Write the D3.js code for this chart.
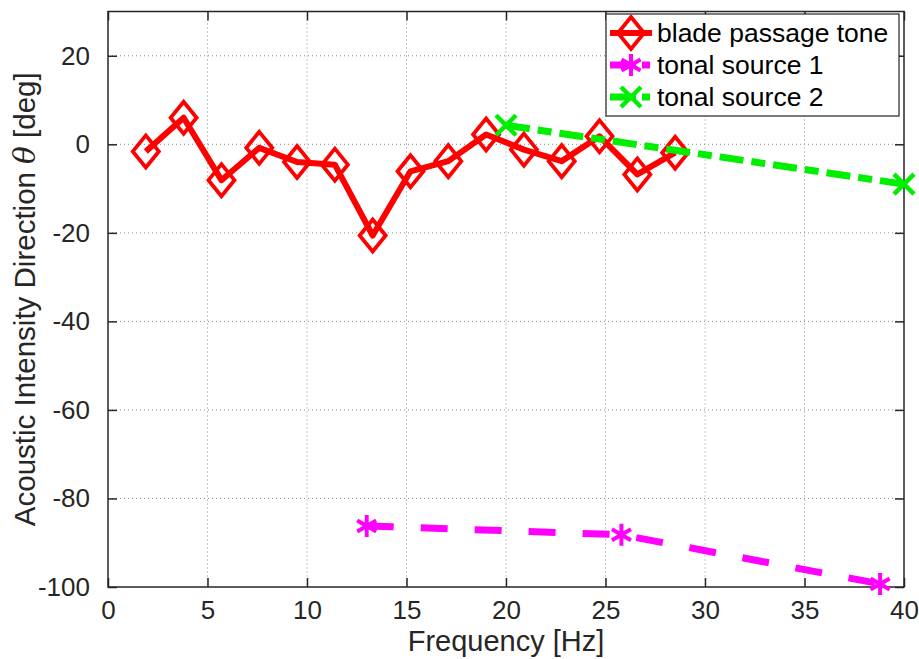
<!DOCTYPE html>
<html>
<head>
<meta charset="utf-8">
<script src="https://cdn.jsdelivr.net/npm/d3@7"></script>
<style>
  body { margin: 0; background: #fff; }
  svg { display: block; font-family: "Liberation Sans", Arial, Helvetica, sans-serif; }
</style>
</head>
<body>
<div id="graph"></div>
<script>
// blade passage tone
const bptFreq = [1.9, 3.8, 5.7, 7.6, 9.5, 11.4, 13.3, 15.2, 17.1, 19.0, 20.9, 22.8, 24.7, 26.6, 28.5];
const bptDir = [-1.6, 6.0, -8.1, -0.8, -4.0, -4.6, -20.6, -6.1, -3.8, 2.2, -1.2, -3.8, 1.8, -6.8, -1.9];
// tonal source 1
const ts1Freq = [13.0, 25.8, 38.8];
const ts1Dir = [-86.2, -88.2, -99.3];
// tonal source 2
const ts2Freq = [20.0, 40.0];
const ts2Dir = [4.3, -9.0];

const xTicks = [0, 5, 10, 15, 20, 25, 30, 35, 40];
const yTicks = [-100, -80, -60, -40, -20, 0, 20];
const legendLabels = ['blade passage tone', 'tonal source 1', 'tonal source 2'];

const W = 919, H = 659;
const margin = { top: 11.5, right: 15, bottom: 72, left: 108 };
const width = W - margin.left - margin.right;
const height = H - margin.top - margin.bottom;
const axisColor = '#262626';

const svg = d3.select('#graph').append('svg')
    .attr('width', W)
    .attr('height', H);

const g = svg.append('g')
    .attr('transform', `translate(${margin.left},${margin.top})`);

const xScale = d3.scaleLinear().domain([0, 40]).range([0, width]);
const yScale = d3.scaleLinear().domain([-100, 30]).range([height, 0]);

// grid
g.append('g').selectAll('line')
    .data(xTicks.slice(1, -1)).enter().append('line')
        .attr('x1', d => xScale(d)).attr('x2', d => xScale(d))
        .attr('y1', 0).attr('y2', height)
        .attr('stroke', '#8c8c8c').attr('stroke-width', 1)
        .attr('stroke-dasharray', '1,3');
g.append('g').selectAll('line')
    .data(yTicks.slice(1)).enter().append('line')
        .attr('y1', d => yScale(d)).attr('y2', d => yScale(d))
        .attr('x1', 0).attr('x2', width)
        .attr('stroke', '#8c8c8c').attr('stroke-width', 1)
        .attr('stroke-dasharray', '1,3');

// axes (MATLAB style: ticks inside, box on)
function styleAxis(sel) {
    sel.select('.domain').remove();
    sel.selectAll('line').attr('stroke', axisColor).attr('stroke-width', 1.5);
    sel.selectAll('text').attr('fill', axisColor).style('font-size', '26px');
}

const plain = d => String(d);

const xAxis = g.append('g')
        .attr('transform', `translate(0,${height})`)
    .call(d3.axisBottom(xScale).tickValues(xTicks).tickSize(-9).tickPadding(14).tickFormat(plain))
    .call(styleAxis);
xAxis.selectAll('text').attr('dy', '0.71em');

g.append('g')
    .call(d3.axisTop(xScale).tickValues(xTicks).tickSize(-9).tickFormat(''))
    .call(styleAxis);

g.append('g')
    .call(d3.axisLeft(yScale).tickValues(yTicks).tickSize(-9).tickPadding(18).tickFormat(plain))
    .call(styleAxis);

g.append('g')
        .attr('transform', `translate(${width},0)`)
    .call(d3.axisRight(yScale).tickValues(yTicks).tickSize(-9).tickFormat(''))
    .call(styleAxis);

g.append('rect')
    .attr('width', width).attr('height', height)
    .attr('fill', 'none').attr('stroke', axisColor).attr('stroke-width', 1.5);

// axis labels
svg.append('text')
    .attr('x', margin.left + width / 2).attr('y', 651)
    .attr('text-anchor', 'middle')
    .attr('fill', axisColor)
    .style('font-size', '29px')
    .text('Frequency [Hz]');

const yl = svg.append('text')
    .attr('transform', `translate(35,${margin.top + height / 2}) rotate(-90)`)
    .attr('text-anchor', 'middle')
    .attr('fill', axisColor)
    .style('font-size', '29.5px');
yl.append('tspan').text('Acoustic Intensity Direction ');
yl.append('tspan').attr('font-style', 'italic').attr('font-family', '"DejaVu Serif", serif').text('θ');
yl.append('tspan').text(' [deg]');

// markers
function diamond(sel, color) {
    sel.append('path')
        .attr('d', 'M0,-16 L13,0 L0,16 L-13,0 Z')
        .attr('fill', 'none').attr('stroke', color).attr('stroke-width', 3.8)
        .attr('stroke-linejoin', 'miter');
}
function star(sel, color) {
    const r = 11;
    const a = Math.cos(Math.PI / 6) * r, b = Math.sin(Math.PI / 6) * r;
    sel.append('path')
        .attr('d', `M0,${-r} L0,${r} M${-a},${-b} L${a},${b} M${-a},${b} L${a},${-b}`)
        .attr('stroke', color).attr('stroke-width', 4).attr('fill', 'none');
}
function cross(sel, color) {
    const r = 10;
    sel.append('path')
        .attr('d', `M${-r},${-r} L${r},${r} M${-r},${r} L${r},${-r}`)
        .attr('stroke', color).attr('stroke-width', 4.5).attr('fill', 'none');
}

const series = [
    { name: legendLabels[0], freq: bptFreq, dir: bptDir, color: '#ff0000', width: 6, dash: null, marker: diamond },
    { name: legendLabels[1], freq: ts1Freq, dir: ts1Dir, color: '#ff00ff', width: 7, dash: '27,27', marker: star },
    { name: legendLabels[2], freq: ts2Freq, dir: ts2Dir, color: '#00ee00', width: 7, dash: '24,8,14,8', marker: cross }
];

const line = d3.line()
    .x(d => xScale(d[0]))
    .y(d => yScale(d[1]));

series.forEach(s => {
    const pts = s.freq.map((f, i) => [f, s.dir[i]]);
    g.append('path')
        .datum(pts)
        .attr('d', line)
        .attr('fill', 'none')
        .attr('stroke', s.color)
        .attr('stroke-width', s.width)
        .attr('stroke-linejoin', 'round')
        .attr('stroke-dasharray', s.dash);
    g.append('g').selectAll('g')
        .data(pts).enter().append('g')
            .attr('transform', d => `translate(${xScale(d[0])},${yScale(d[1])})`)
            .each(function () { s.marker(d3.select(this), s.color); });
});

// legend
const legend = svg.append('g');
legend.append('rect')
    .attr('x', 606).attr('y', 14)
    .attr('width', 293).attr('height', 102)
    .attr('fill', '#fff').attr('stroke', axisColor).attr('stroke-width', 1.2);

series.forEach((s, i) => {
    const cy = 33 + i * 32;
    const item = legend.append('g');
    item.append('line')
        .attr('x1', 610).attr('x2', 652)
        .attr('y1', cy).attr('y2', cy)
        .attr('stroke', s.color).attr('stroke-width', s.width)
        .attr('stroke-dasharray', s.dash ? '26,6,8,20' : null);
    const m = item.append('g').attr('transform', `translate(631,${cy})`);
    s.marker(m, s.color);
    item.append('text')
        .attr('x', 657).attr('y', cy + 9)
        .attr('fill', '#000')
        .style('font-size', '26.5px')
        .text(s.name);
});
</script>
</body>
</html>
